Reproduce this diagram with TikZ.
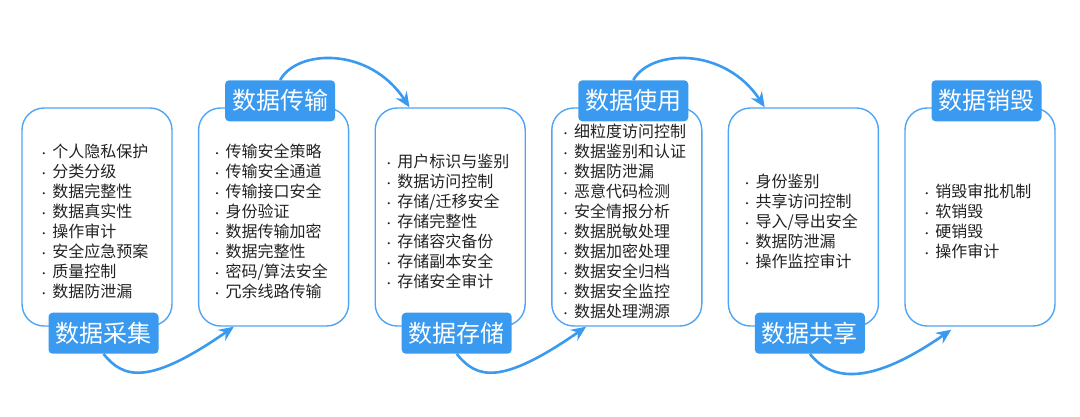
\documentclass[tikz,border=0pt]{standalone}
\usepackage{fontspec}
\setmainfont{Noto Sans CJK SC}
\usetikzlibrary{arrows.meta}
\definecolor{stageblue}{HTML}{3A9AF0}
\definecolor{boxline}{HTML}{4FA5F5}
\definecolor{itemtext}{HTML}{222222}
\newcommand{\itemdot}{\makebox[4pt][c]{\fontsize{10}{20}\selectfont ·}\hspace{6.5pt}}

\begin{document}
\begin{tikzpicture}[x=1pt,y=1pt,
  stagebox/.style={draw=boxline, line width=1.4pt, rounded corners=22pt,
    minimum width=150pt, minimum height=218pt, inner sep=0pt},
  stagelabel/.style={fill=stageblue, text=white, rounded corners=4pt,
    minimum width=110pt, minimum height=41pt, inner sep=0pt,
    font=\fontsize{24}{24}\selectfont},
  itemlist/.style={align=left, text=itemtext, inner sep=0pt,
    font=\fontsize{16}{20}\selectfont},
  flow/.style={draw=stageblue, line width=2.6pt,
    -{Stealth[length=15pt,width=13pt,inset=5pt]}}]

\useasboundingbox (0,0) rectangle (1080,416);

% Define boxes
\node[stagebox] (B1) at (97,199) {};
\node[stagebox] (B2) at (273.6,199) {};
\node[stagebox] (B3) at (450.2,199) {};
\node[stagebox] (B4) at (626.8,199) {};
\node[stagebox] (B5) at (803.4,199) {};
\node[stagebox] (B6) at (980,199) {};

% Items in each box
\node[itemlist] (L1) at ([shift={(-2,-4)}]B1.center)
  {\itemdot 个人隐私保护\\\itemdot 分类分级\\\itemdot 数据完整性\\\itemdot 数据真实性\\\itemdot 操作审计\\\itemdot 安全应急预案\\\itemdot 质量控制\\\itemdot 数据防泄漏};
\node[itemlist] (L2) at ([shift={(-2,-4)}]B2.center)
  {\itemdot 传输安全策略\\\itemdot 传输安全通道\\\itemdot 传输接口安全\\\itemdot 身份验证\\\itemdot 数据传输加密\\\itemdot 数据完整性\\\itemdot 密码/算法安全\\\itemdot 冗余线路传输};
\node[itemlist] (L3) at ([shift={(-2,-4)}]B3.center)
  {\itemdot 用户标识与鉴别\\\itemdot 数据访问控制\\\itemdot 存储/迁移安全\\\itemdot 存储完整性\\\itemdot 存储容灾备份\\\itemdot 存储副本安全\\\itemdot 存储安全审计};
\node[itemlist] (L4) at ([shift={(-2,-4)}]B4.center)
  {\itemdot 细粒度访问控制\\\itemdot 数据鉴别和认证\\\itemdot 数据防泄漏\\\itemdot 恶意代码检测\\\itemdot 安全情报分析\\\itemdot 数据脱敏处理\\\itemdot 数据加密处理\\\itemdot 数据安全归档\\\itemdot 数据安全监控\\\itemdot 数据处理溯源};
\node[itemlist] (L5) at ([shift={(-2,-4)}]B5.center)
  {\itemdot 身份鉴别\\\itemdot 共享访问控制\\\itemdot 导入/导出安全\\\itemdot 数据防泄漏\\\itemdot 操作监控审计};
\node[itemlist] (L6) at ([shift={(-2,-4)}]B6.center)
  {\itemdot 销毁审批机制\\\itemdot 软销毁\\\itemdot 硬销毁\\\itemdot 操作审计};

% Stage labels
\node[stagelabel] (S1) at ([shift={(6.5,-6.5)}]B1.south) {数据采集};
\node[stagelabel] (S2) at ([shift={(6.5,6.5)}]B2.north) {数据传输};
\node[stagelabel] (S3) at ([shift={(6.5,-6.5)}]B3.south) {数据存储};
\node[stagelabel] (S4) at ([shift={(6.5,6.5)}]B4.north) {数据使用};
\node[stagelabel] (S5) at ([shift={(6.5,-6.5)}]B5.south) {数据共享};
\node[stagelabel] (S6) at ([shift={(6.5,6.5)}]B6.north) {数据销毁};

% Arrow ends
\coordinate (E1) at ([xshift=36pt]B2.south west);
\coordinate (E2) at ([xshift=35pt]B3.north west);
\coordinate (E3) at ([xshift=35pt]B4.south west);
\coordinate (E4) at ([xshift=37pt]B5.north west);
\coordinate (E5) at ([shift={(47pt,-3pt)}]B6.south west);

% Arrows between stages
\draw[flow] (S1.south) .. controls +(20,-25) and +(-85,-59) .. (E1);
\draw[flow] (S2.north) .. controls +(17,31) and +(-40,61) .. (E2);
\draw[flow] (S3.south) .. controls +(20,-25) and +(-85,-59) .. (E3);
\draw[flow] (S4.north) .. controls +(17,31) and +(-40,61) .. (E4);
\draw[flow] (S5.south) .. controls +(20,-25) and +(-85,-59) .. (E5);

\end{tikzpicture}
\end{document}
